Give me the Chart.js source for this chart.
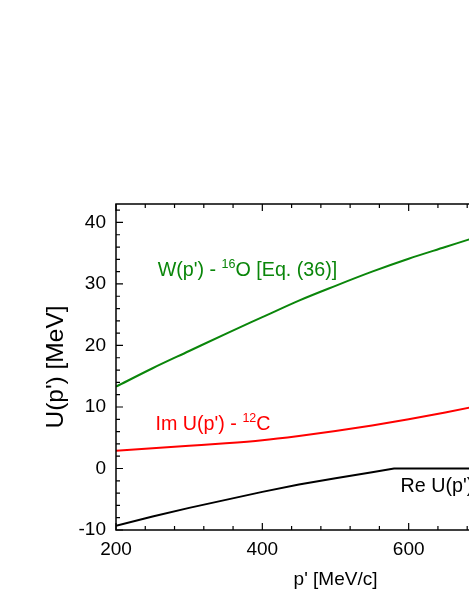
<!DOCTYPE html>
<html>
<head>
<meta charset="utf-8">
<script src="https://cdn.jsdelivr.net/npm/chart.js@4/dist/chart.umd.min.js"></script>
<style>
  html, body { margin: 0; padding: 0; background: #fff; overflow: hidden; }
  #wrap { position: relative; width: 580px; height: 607px; }
</style>
</head>
<body>
<div id="wrap"><canvas id="potChart"></canvas></div>
<script>
// momentum grid p' [MeV/c]
const pGrid = [200, 250, 300, 350, 400, 450, 500, 550, 600, 650, 700, 750, 800];
// W(p') - 16O [Eq. (36)]
const wVals = [13.3, 16.3, 19.1, 21.9, 24.6, 27.3, 29.7, 32.0, 34.1, 36.0, 37.9, 39.7, 41.4];
// Im U(p') - 12C
const imVals = [2.9, 3.3, 3.7, 4.1, 4.6, 5.3, 6.1, 7.0, 8.0, 9.1, 10.3, 11.6, 13.0];
// Re U(p')
const pRe = [200, 250, 300, 350, 400, 450, 500, 550, 580, 800];
const reVals = [-9.3, -7.8, -6.4, -5.1, -3.8, -2.6, -1.6, -0.6, 0, 0];

const xTicks = [200, 400, 600, 800];
const yTicks = [-10, 0, 10, 20, 30, 40];

const FONT = "'Liberation Sans', Arial, sans-serif";

function pts(xs, ys) {
  return xs.map((x, i) => ({ x: x, y: ys[i] }));
}

// inward ticks on all four sides + frame
const frameTicks = {
  id: 'frameTicks',
  afterDraw(chart) {
    const ctx = chart.ctx, a = chart.chartArea;
    const xs = chart.scales.x, ys = chart.scales.y;
    ctx.save();
    ctx.strokeStyle = '#000';
    ctx.lineWidth = 1.5;
    ctx.strokeRect(a.left, a.top, a.right - a.left, a.bottom - a.top);
    ctx.lineWidth = 1.2;
    ctx.beginPath();
    for (let v = 200; v <= 800; v += 40) {
      const px = xs.getPixelForValue(v);
      const len = v % 200 === 0 ? 7 : 4;
      ctx.moveTo(px, a.bottom); ctx.lineTo(px, a.bottom - len);
      ctx.moveTo(px, a.top); ctx.lineTo(px, a.top + len);
    }
    for (let v = -10; v <= 42; v += 2) {
      const py = ys.getPixelForValue(v);
      const len = v % 10 === 0 ? 7 : 4;
      ctx.moveTo(a.left, py); ctx.lineTo(a.left + len, py);
      ctx.moveTo(a.right, py); ctx.lineTo(a.right - len, py);
    }
    ctx.stroke();
    ctx.restore();
  }
};

// curve labels with superscripts
const curveLabels = {
  id: 'curveLabels',
  afterDraw(chart, args, opts) {
    const ctx = chart.ctx;
    const xs = chart.scales.x, ys = chart.scales.y;
    ctx.save();
    ctx.textBaseline = 'alphabetic';
    ctx.textAlign = 'left';
    opts.items.forEach(it => {
      let x = xs.getPixelForValue(it.x);
      const y = ys.getPixelForValue(it.y);
      ctx.fillStyle = it.color;
      it.parts.forEach(p => {
        const sup = p[1];
        ctx.font = (sup ? 12.5 : 19.7) + 'px ' + FONT;
        ctx.fillText(p[0], x, sup ? y - 8 : y);
        x += ctx.measureText(p[0]).width;
      });
    });
    ctx.restore();
  }
};

new Chart(document.getElementById('potChart'), {
  type: 'line',
  data: {
    datasets: [
      { label: 'W', data: pts(pGrid, wVals), borderColor: '#0a860a', borderWidth: 2, cubicInterpolationMode: 'monotone' },
      { label: 'Im U', data: pts(pGrid, imVals), borderColor: '#ff0000', borderWidth: 2, cubicInterpolationMode: 'monotone' },
      { label: 'Re U', data: pts(pRe, reVals), borderColor: '#000000', borderWidth: 2, tension: 0 }
    ]
  },
  options: {
    responsive: true,
    maintainAspectRatio: false,
    animation: false,
    events: [],
    elements: { point: { radius: 0 } },
    layout: { padding: { top: 204, left: 0, right: 25, bottom: 0 } },
    plugins: {
      legend: { display: false },
      tooltip: { enabled: false },
      curveLabels: {
        items: [
          { x: 257, y: 31.3, color: '#0a860a', parts: [["W(p') - ", false], ['16', true], ['O [Eq. (36)]', false]] },
          { x: 254, y: 6.3, color: '#ff0000', parts: [["Im U(p') - ", false], ['12', true], ['C', false]] },
          { x: 589, y: -3.8, color: '#000000', parts: [["Re U(p')", false]] }
        ]
      }
    },
    scales: {
      x: {
        type: 'linear',
        min: 200,
        max: 800,
        grid: { display: false },
        border: { display: false },
        afterBuildTicks: s => { s.ticks = xTicks.map(v => ({ value: v })); },
        afterFit: s => { s.height = 77; },
        ticks: { color: '#000', padding: 0, font: { family: FONT, size: 19 } },
        title: { display: true, text: "p' [MeV/c]", color: '#000', font: { family: FONT, size: 19 }, padding: { top: 0, bottom: 16 } }
      },
      y: {
        type: 'linear',
        min: -10,
        max: 43,
        grid: { display: false },
        border: { display: false },
        afterBuildTicks: s => { s.ticks = yTicks.map(v => ({ value: v })); },
        afterFit: s => { s.width = 116; },
        ticks: { color: '#000', padding: 2, font: { family: FONT, size: 19 } },
        title: { display: true, text: "U(p') [MeV]", color: '#000', font: { family: FONT, size: 24.5 }, padding: { top: 42, bottom: 0 } }
      }
    }
  },
  plugins: [frameTicks, curveLabels]
});
</script>
</body>
</html>
